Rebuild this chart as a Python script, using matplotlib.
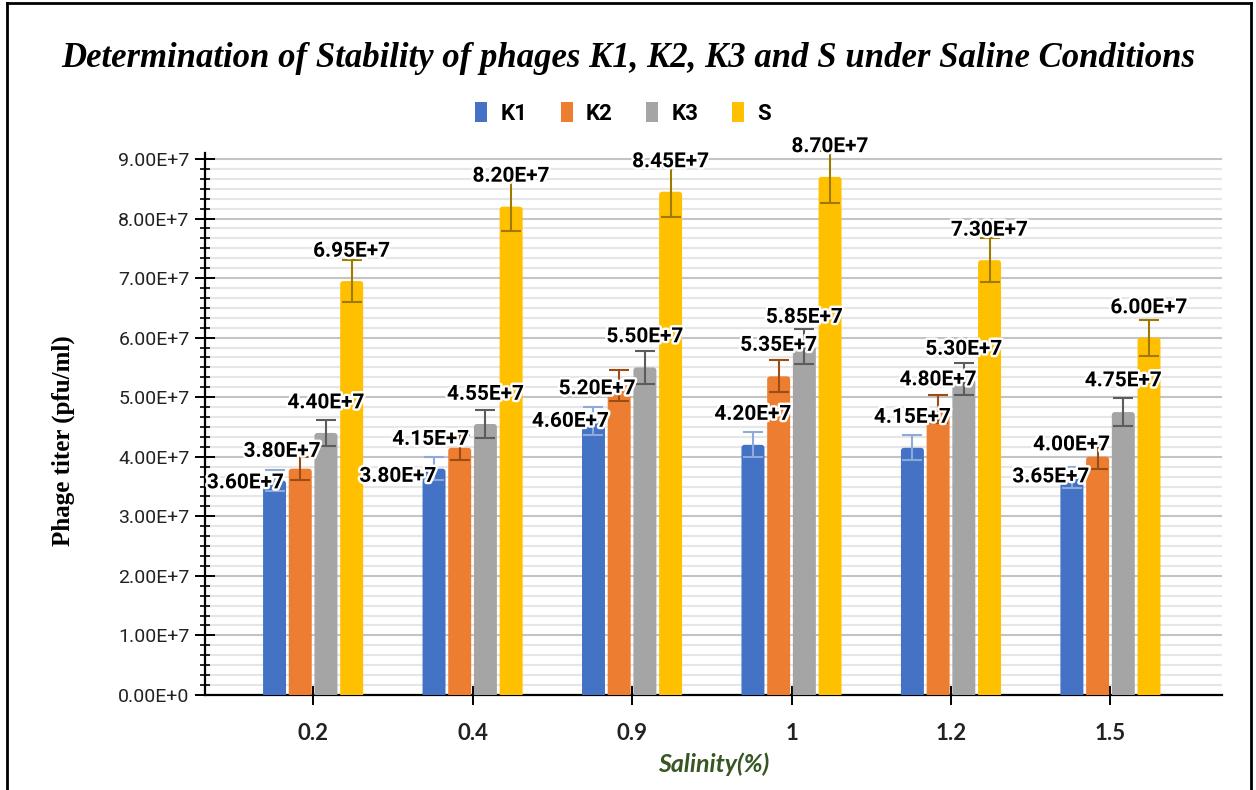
import numpy as np
import matplotlib
matplotlib.use("Agg")
import matplotlib.pyplot as plt
import matplotlib.patheffects as pe
from matplotlib.patches import Patch, FancyBboxPatch
from matplotlib.lines import Line2D
from matplotlib.ticker import MultipleLocator, FuncFormatter

# --- data (pfu/ml) ---
salinity = ["0.2", "0.4", "0.9", "1", "1.2", "1.5"]
series = ["K1", "K2", "K3", "S"]

k1 = [3.60e7, 3.80e7, 4.60e7, 4.20e7, 4.15e7, 3.65e7]
k2 = [3.80e7, 4.15e7, 5.20e7, 5.35e7, 4.80e7, 4.00e7]
k3 = [4.40e7, 4.55e7, 5.50e7, 5.85e7, 5.30e7, 4.75e7]
s = [6.95e7, 8.20e7, 8.45e7, 8.70e7, 7.30e7, 6.00e7]

k1_err = [0.18e7, 0.19e7, 0.23e7, 0.21e7, 0.21e7, 0.18e7]
k2_err = [0.19e7, 0.21e7, 0.26e7, 0.27e7, 0.24e7, 0.20e7]
k3_err = [0.22e7, 0.23e7, 0.28e7, 0.29e7, 0.27e7, 0.24e7]
s_err = [0.35e7, 0.41e7, 0.42e7, 0.44e7, 0.37e7, 0.30e7]

k1_lbl = ["3.60E+7", "3.80E+7", "4.60E+7", "4.20E+7", "4.15E+7", "3.65E+7"]
k2_lbl = ["3.80E+7", "4.15E+7", "5.20E+7", "5.35E+7", "4.80E+7", "4.00E+7"]
k3_lbl = ["4.40E+7", "4.55E+7", "5.50E+7", "5.85E+7", "5.30E+7", "4.75E+7"]
s_lbl = ["6.95E+7", "8.20E+7", "8.45E+7", "8.70E+7", "7.30E+7", "6.00E+7"]

# --- styling ---
bar_colors = ["#4472c4", "#ed7d31", "#a5a5a5", "#ffc000"]
err_colors = ["#8eaadb", "#9c4d16", "#5c5c5c", "#9e7a00"]
# label placement (pixel offsets from the error bar top), auto-avoid look
lbl_dx = [[-29, -36, -23, 0, 0, -21],
          [-18, -29, -22, 0, 0, -26],
          [0, 0, 0, 0, 0, 0],
          [0, 0, 0, 0, 0, 0]]
lbl_dy = [[-13, -19, -14, 18, 18, -10],
          [6, -4, -19, 15, 15, 0],
          [17, 16, 14, 12, 14, 17],
          [9, 6, 5, 4, 8, 12]]

values = [k1, k2, k3, s]
errors = [k1_err, k2_err, k3_err, s_err]
labels = [k1_lbl, k2_lbl, k3_lbl, s_lbl]

fig = plt.figure(figsize=(12.56, 7.90), dpi=100)
ax = fig.add_axes([0.1632, 0.1203, 0.8098, 0.686])

x = np.arange(len(salinity))
pitch = 0.1612
width = 0.144

ax.set_xlim(-0.678, 5.70)
ax.set_ylim(0, 9.1e7)

# rounding of bar tops: ~3 px in both directions
rx = 3 / 159.4
ry = 3 / 59.56 * 1e7

for i in range(4):
    xi = x + (i - 1.5) * pitch
    bars = ax.bar(xi, values[i], width, color=bar_colors[i], zorder=3, label=series[i])
    for rect in bars:
        x0, w, h = rect.get_x(), rect.get_width(), rect.get_height()
        rect.set_visible(False)
        ax.add_patch(FancyBboxPatch((x0, -ry), w, h + ry,
                                    boxstyle=f"round,pad=0,rounding_size={rx}",
                                    mutation_aspect=ry / rx, fc=bar_colors[i],
                                    ec="none", zorder=3))
    ax.errorbar(xi, values[i], yerr=errors[i], fmt="none", ecolor=err_colors[i],
                elinewidth=1.5, capsize=7, capthick=1.5, zorder=4, clip_on=False)
    for j in range(len(x)):
        ax.annotate(labels[i][j], (xi[j], values[i][j] + errors[i][j]),
                    xytext=(lbl_dx[i][j], lbl_dy[i][j]), textcoords="offset pixels",
                    ha="center", va="center", fontsize=15, fontweight="bold",
                    family=["Roboto", "DejaVu Sans"], color="black", zorder=6,
                    annotation_clip=False,
                    path_effects=[pe.withStroke(linewidth=3.5, foreground="white")])

# axes
ax.yaxis.set_major_locator(MultipleLocator(1e7))
ax.yaxis.set_minor_locator(MultipleLocator(1e7 / 6))


def fmt(v, pos):
    if v == 0:
        return "0.00E+0"
    return f"{v / 1e7:.2f}E+7"


ax.yaxis.set_major_formatter(FuncFormatter(fmt))
ax.set_xticks(x)
ax.set_xticklabels(salinity)

ax.grid(axis="y", which="major", color="#c4c4c4", lw=1.5, zorder=0)
ax.grid(axis="y", which="minor", color="#e6e6e6", lw=1.5, zorder=0)
ax.set_axisbelow(True)

for sp in ["top", "right"]:
    ax.spines[sp].set_visible(False)
ax.spines["left"].set_linewidth(1.6)
ax.spines["bottom"].set_linewidth(1.6)

ax.tick_params(axis="y", which="major", direction="inout", length=14, width=1.4,
               labelsize=14, pad=4)
ax.tick_params(axis="y", which="minor", direction="inout", length=7, width=1.2)
ax.tick_params(axis="x", which="major", direction="inout", length=14, width=1.4,
               pad=13)
for t in ax.get_yticklabels():
    t.set_family(["Roboto", "DejaVu Sans"])
    t.set_color("#222222")
for t in ax.get_xticklabels():
    t.set_family(["Lato", "DejaVu Sans"])
    t.set_fontweight("bold")
    t.set_fontsize(16)
    t.set_color("#222222")

ax.set_xlabel("Salinity(%)", family=["Lato", "DejaVu Sans"], fontsize=18,
              fontweight="bold", style="italic", color="#375623", labelpad=6)
ax.set_ylabel("Phage titer (pfu/ml)", family=["Liberation Serif", "DejaVu Serif"],
              fontsize=18, fontweight="bold")
ax.yaxis.set_label_coords(-0.128, 0.4686)

fig.text(0.5, 0.926,
         "Determination of Stability of phages K1, K2, K3 and S under Saline Conditions",
         ha="center", va="center", family=["Liberation Serif", "DejaVu Serif"],
         fontsize=25, fontweight="bold", style="italic")

handles = [Patch(facecolor=c, edgecolor="none") for c in bar_colors]
fig.legend(handles, series, loc="center", bbox_to_anchor=(0.496, 0.856), ncol=4,
           frameon=False, handlelength=0.55, handleheight=1.0, handletextpad=0.6,
           columnspacing=1.5, prop={"family": ["Roboto", "DejaVu Sans"],
                                     "weight": "bold", "size": 16})

# outer frame (left, top, right)
fig.add_artist(Line2D([7 / 1256, 7 / 1256], [0, 1 - 3 / 790], color="black", lw=2))
fig.add_artist(Line2D([7 / 1256, 1251 / 1256], [1 - 3 / 790, 1 - 3 / 790], color="black", lw=2))
fig.add_artist(Line2D([1251 / 1256, 1251 / 1256], [0, 1 - 3 / 790], color="black", lw=2))

fig.savefig("out.png", dpi=100)
